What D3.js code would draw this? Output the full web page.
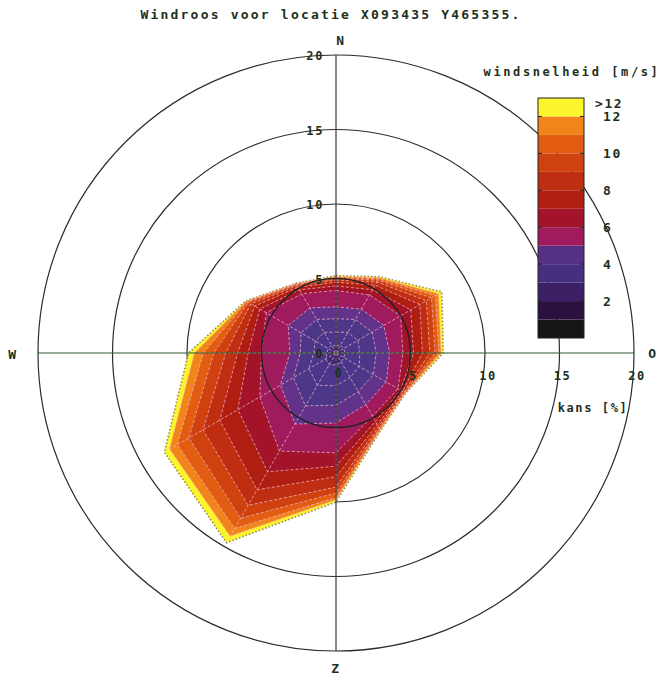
<!DOCTYPE html>
<html>
<head>
<meta charset="utf-8">
<script src="https://cdn.jsdelivr.net/npm/d3@7"></script>
<style>
  body { margin: 0; background: #fff; }
  text { font-family: "DejaVu Sans Mono", monospace; font-weight: bold; fill: #1c301c; }
</style>
</head>
<body>
<script>
var w = 667;
var h = 678;
var cx = 336;
var cy = 353;

// wind directions (degrees, N = 0, clockwise)
var directions = [0, 30, 60, 90, 120, 150, 180, 210, 240, 270, 300, 330];

// speed classes (upper bound m/s), last one is >12
var speedClasses = [1, 2, 3, 4, 5, 6, 7, 8, 9, 10, 11, 12, 13];
var classColors = ["#151515", "#2b1040", "#3b2066", "#45307f", "#553085", "#a01a5e",
                   "#a3142a", "#b01e12", "#bf2e10", "#cf4210", "#e25c12", "#f2841c", "#fdf52c"];
// the rose itself shows the low classes a little lighter
var roseColors = ["#2a1648", "#3e2a78", "#4a378c", "#4d3788", "#63328a", "#a01a5e",
                  "#a3142a", "#b01e12", "#bf2e10", "#cf4210", "#e25c12", "#f2841c", "#fdf52c"];

// cumulative chance [%] per direction, one value per speed class
var cumN   = [0.1, 0.5, 1.4, 2.3, 3.1, 4.2, 4.5, 4.75, 4.9, 5.0, 5.08, 5.14, 5.2];
var cum30  = [0.1, 0.6, 1.6, 2.6, 3.4, 4.5, 4.9, 5.25, 5.5, 5.65, 5.75, 5.83, 5.9];
var cum60  = [0.1, 0.6, 1.7, 2.8, 3.7, 5.0, 5.8, 6.5, 7.0, 7.4, 7.7, 7.95, 8.2];
var cum90  = [0.1, 0.6, 1.6, 2.7, 3.6, 4.5, 5.2, 5.8, 6.3, 6.65, 6.9, 7.05, 7.2];
var cum120 = [0.1, 0.6, 1.8, 2.9, 3.9, 4.8, 5.0, 5.15, 5.25, 5.3, 5.35, 5.38, 5.4];
var cum150 = [0.1, 0.7, 1.9, 3.0, 4.0, 4.9, 5.3, 5.55, 5.7, 5.82, 5.9, 5.96, 6.0];
var cum180 = [0.1, 0.8, 2.2, 3.5, 4.7, 6.7, 7.6, 8.3, 9.0, 9.4, 9.7, 9.85, 10.0];
var cum210 = [0.1, 0.9, 2.5, 4.1, 5.5, 7.6, 9.2, 10.6, 11.8, 12.8, 13.6, 14.2, 14.7];
var cum240 = [0.1, 0.8, 2.1, 3.3, 4.3, 5.9, 7.6, 9.0, 10.3, 11.4, 12.3, 12.9, 13.3];
var cum270 = [0.1, 0.6, 1.5, 2.4, 3.1, 5.0, 5.9, 6.6, 7.4, 8.2, 8.9, 9.5, 9.9];
var cum300 = [0.1, 0.6, 1.6, 2.7, 3.7, 5.4, 5.9, 6.3, 6.6, 6.8, 6.9, 6.96, 7.0];
var cum330 = [0.1, 0.6, 1.6, 2.6, 3.5, 4.6, 4.9, 5.1, 5.22, 5.3, 5.35, 5.38, 5.4];
var cumByDir = [cumN, cum30, cum60, cum90, cum120, cum150, cum180, cum210, cum240, cum270, cum300, cum330];

var rings = [5, 10, 15, 20];
var legendTicks = [2, 4, 6, 8, 10, 12];

var rScale = d3.scaleLinear().domain([0, 20]).range([0, 298]);
var toRad = function(d) { return d * Math.PI / 180; };

var svg = d3.select("body").append("svg")
    .attr("width", w)
    .attr("height", h);

svg.append("text")
    .attr("x", 331).attr("y", 19)
    .attr("text-anchor", "middle")
    .style("font-size", "13px")
    .style("letter-spacing", "2.2px")
    .text("Windroos voor locatie X093435 Y465355.");

var g = svg.append("g").attr("transform", "translate(" + cx + "," + cy + ")");

// outer grid circles (below the rose)
g.selectAll("circle.ring")
    .data(rings)
    .enter().append("circle")
    .attr("class", "ring")
    .attr("r", function(d) { return rScale(d); })
    .attr("fill", "none")
    .attr("stroke", "#2c2c2c")
    .attr("stroke-width", 1.2);

var radial = d3.lineRadial()
    .angle(function(d) { return toRad(d.dir); })
    .radius(function(d) { return rScale(d.v); })
    .curve(d3.curveLinearClosed);

var classPolys = speedClasses.map(function(s, k) {
    return directions.map(function(dir, i) { return { dir: dir, v: cumByDir[i][k] }; });
});

// polygons from the outer class to the inner one
g.selectAll("path.band")
    .data(classPolys.slice().reverse())
    .enter().append("path")
    .attr("class", "band")
    .attr("d", radial)
    .attr("fill", function(d, i) { return roseColors[speedClasses.length - 1 - i]; })
    .attr("stroke", function(d, i) { return i == 0 ? "#8a7a60" : "#f2b4c6"; })
    .attr("stroke-width", function(d, i) { return i == 0 ? 1.6 : 1; })
    .attr("stroke-dasharray", function(d, i) { return i == 0 ? "1.5,2" : "3,2"; })
    .attr("stroke-opacity", function(d, i) { return i == 0 ? 0.9 : 0.75; });

// spokes of the web
g.selectAll("line.spoke")
    .data(directions)
    .enter().append("line")
    .attr("class", "spoke")
    .attr("x1", 0).attr("y1", 0)
    .attr("x2", function(d, i) { return rScale(cumByDir[i][11]) * Math.sin(toRad(d)); })
    .attr("y2", function(d, i) { return -rScale(cumByDir[i][11]) * Math.cos(toRad(d)); })
    .attr("stroke", "#f2b4c6")
    .attr("stroke-opacity", 0.75)
    .attr("stroke-dasharray", "3,2");

// the 5 % circle is drawn over the rose
g.append("circle")
    .attr("r", rScale(5))
    .attr("fill", "none")
    .attr("stroke", "#222")
    .attr("stroke-width", 1.4);

// axes
g.append("line")
    .attr("x1", -rScale(20)).attr("x2", rScale(20)).attr("y1", 0).attr("y2", 0)
    .attr("stroke", "#2e5a2e").attr("stroke-width", 1.2);
g.append("line")
    .attr("y1", -rScale(20)).attr("y2", rScale(20)).attr("x1", 0).attr("x2", 0)
    .attr("stroke", "#3a3a3a").attr("stroke-width", 1.2);

var lbl = function(x, y, t, anchor, size) {
    return svg.append("text")
        .attr("x", x).attr("y", y)
        .attr("text-anchor", anchor || "middle")
        .style("font-size", (size || 12) + "px")
        .style("letter-spacing", "1.6px")
        .text(t);
};

// tick labels
[0].concat(rings).forEach(function(d) {
    lbl(cx - 12, cy - rScale(d) + 5, d, "end");
});
[0].concat(rings).forEach(function(d) {
    lbl(cx + rScale(d) + 3, cy + (d == 0 ? 24 : 27), d, "middle");
});
lbl(593, 412, "kans [%]");

// compass labels
lbl(341, 45, "N", "middle", 13);
lbl(653, 358, "O", "middle", 13);
lbl(336, 673, "Z", "middle", 13);
lbl(13, 359, "W", "middle", 13);

// legend
var ly = d3.scaleLinear().domain([0, 13]).range([338, 98]);
var lx = 538, lw = 46;
svg.append("text")
    .attr("x", 572).attr("y", 76)
    .attr("text-anchor", "middle")
    .style("font-size", "12px")
    .style("letter-spacing", "2.6px")
    .text("windsnelheid [m/s]");

svg.selectAll("rect.leg")
    .data(speedClasses)
    .enter().append("rect")
    .attr("class", "leg")
    .attr("x", lx)
    .attr("y", function(d) { return ly(d); })
    .attr("width", lw)
    .attr("height", function(d) { return ly(d - 1) - ly(d); })
    .attr("fill", function(d, i) { return classColors[i]; });

svg.append("rect")
    .attr("x", lx).attr("y", ly(13)).attr("width", lw).attr("height", ly(0) - ly(13))
    .attr("fill", "none").attr("stroke", "#222").attr("stroke-width", 1);

svg.selectAll("line.ltick")
    .data(legendTicks)
    .enter().append("line")
    .attr("x1", lx).attr("x2", lx + 4)
    .attr("y1", function(d) { return ly(d); })
    .attr("y2", function(d) { return ly(d); })
    .attr("stroke", "#222");
svg.selectAll("line.rtick")
    .data(legendTicks)
    .enter().append("line")
    .attr("x1", lx + lw - 4).attr("x2", lx + lw)
    .attr("y1", function(d) { return ly(d); })
    .attr("y2", function(d) { return ly(d); })
    .attr("stroke", "#222");

legendTicks.forEach(function(d) {
    lbl(603, ly(d) + 5, d, "start", 13);
});
lbl(595, ly(13) + 10, ">12", "start", 13);
</script>
</body>
</html>
